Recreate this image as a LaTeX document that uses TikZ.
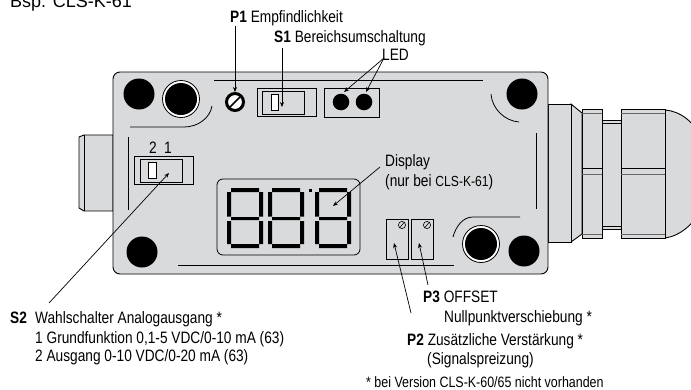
\documentclass[tikz,border=0pt]{standalone}
\usepackage{fontspec}
\setmainfont[FakeStretch=0.83]{Liberation Sans}
\newfontfamily\headfont{Liberation Sans}
\usetikzlibrary{arrows.meta}
\definecolor{housing}{RGB}{217,218,220}
\tikzset{
    lbl/.style={inner sep=0pt,anchor=base west,font=\fontsize{16.5}{18}\selectfont},
    pointer/.style={line width=0.7pt,-{Stealth[length=5pt,width=4pt]}},
    part/.style={line width=0.8pt},
    edge/.style={line width=0.9pt,draw=black,fill=housing},
    blob/.style={fill=black},
  }
% seven segments, origin at the top left corner of the digit
\newcommand{\digitsegs}[1]{%
  \begin{scope}[shift={(#1,188)}]
    \fill (4,0) rectangle (32,4) (4,29) rectangle (32,32) (4,56) rectangle (32,60);
    \foreach \sx in {0,32}{
      \fill (\sx,4) rectangle ++(4,24.5) (\sx,33) rectangle ++(4,23);
    }
  \end{scope}}

\begin{document}
\begin{tikzpicture}[x=1pt,y=-1pt]
				  \useasboundingbox (0,0) rectangle (691,389);
				  %label anchors
				  \coordinate(P1a) at (235,26);
				  \coordinate(P1b) at (235,92);
				  \coordinate(S1a) at (282,48);
				  \coordinate(S1b) at (282,107);
				  \coordinate(LEDa) at (384,58);
				  \coordinate(LEDb) at (344,92);
				  \coordinate(LEDc) at (366,92);
				  \coordinate(S2a) at (49,303);
				  \coordinate(S2b) at (169,173);
				  \coordinate(DISa) at (380,167);
				  \coordinate(DISb) at (333,206);
				  \coordinate(P2a) at (411,313);
				  \coordinate(P2b) at (394,243);
				  \coordinate(P3a) at (428,285);
				  \coordinate(P3b) at (419,243);

				  %gland on the right
				  \begin{scope}
				  \clip (540,90) rectangle (691,260);
				  \draw[edge] (665,110) .. controls (680,111) and (695,122) .. (702,140) .. controls (708,160) and (708,186) .. (702,206) .. controls (695,224) and (680,236) .. (665,238) -- cycle;
				  \end{scope}
				  \draw[edge] (571,104) -- (582,113) -- (582,234) -- (571,242) -- cycle;
				  \draw[edge] (548,104) rectangle (571,242);
				  \draw[edge] (602,120) rectangle (621,229);
				  \draw[part] (602,123) -- (621,123) (602,226) -- (621,226);
				  \foreach \xa/\xb in {582/602,621/665}{
				    \draw[edge] (\xa,109) rectangle (\xb,238);
				    \draw[part,black!60] (\xa,113) -- (\xb,113) (\xa,234) -- (\xb,234) (\xa,174) -- (\xb,174);
				    \draw[edge] (\xa,168) -- (\xb,168);
				  }

				  %plug on the left
				  \draw[edge] (79,137) -- (84,135) -- (113,135) -- (113,211) -- (84,211) -- (79,208) -- cycle;
				  \draw[part] (84,135) -- (84,211);

				  %housing
				  \draw[edge,rounded corners=7pt] (113,72) rectangle (548,274);
				  \draw[part] (214,80) -- (483,80) (536,133) -- (536,209) (128,137) -- (128,210) (178,265) -- (454,265);
				  \draw[part] (130,127) -- (184,127) .. controls (198,127) and (210,118) .. (212,106);
				  \draw[part] (491,94) .. controls (492,109) and (505,121) .. (519,122);
				  \draw[part] (453,237) .. controls (456,226) and (463,217) .. (473,217) -- (520,217);

				  %holes
				  \foreach \cx/\cy in {139/94,522/94,142/252,524/251}{
				    \fill[blob] (\cx,\cy) circle[radius=15.5];
				  }
				  \foreach \cx/\cy in {181/99,481/244}{
				    \draw[part,fill=white] (\cx,\cy) circle[radius=18.5];
				    \fill[blob] (\cx,\cy) circle[radius=16];
				  }

				  %P1 screw
				  \draw[line width=3pt,fill=white] (235,102) circle[radius=8.5];
				  \draw[line width=1.6pt] (230,107) -- (240,97);

				  %switches S1 and S2
				  \draw[part] (257,88) rectangle (316,116);
				  \draw[part] (262,91) rectangle (304,114);
				  \draw[part,fill=white] (271,94) rectangle (278,110);
				  \draw[part] (134,156) rectangle (193,184);
				  \draw[part] (140,159) rectangle (182,182);
				  \draw[part,fill=white] (148,162) rectangle (156,178);

				  %LEDs
				  \draw[part] (324,88) rectangle (379,117);
				  \foreach \cx in {341,364}{
				    \fill[blob] (\cx,102) circle[radius=8.3];
				  }

				  %display
				  \draw[part,rounded corners=6pt] (217,179) rectangle (360,255);
				  \foreach \dx in {227,268,315}{
				    \digitsegs{\dx}
				  }
				  \fill[blob] (308.5,188.5) rectangle ++(3,3);

				  %P2 and P3
				  \foreach \bx/\sx in {386/402,411/427}{
				    \draw[part] (\bx,219) rectangle ++(22,40);
				    \draw[line width=0.6pt] (\sx,225) circle[radius=3.6];
				    \draw[line width=0.6pt] (\sx-2.5,228) -- (\sx+2.5,222);
				  }

				  %texts
				  \node[lbl,font=\headfont\fontsize{18}{20}\selectfont] (head) at (10,7.5) {Bsp. CLS-K-61};
				  \node[lbl] (p1) at (230,22.5) {\textbf{P1} Empfindlichkeit};
				  \node[lbl] (s1) at (274,42.5) {\textbf{S1} Bereichsumschaltung};
				  \node[lbl] (led) at (382,60.5) {LED};
				  \node[lbl] (two) at (149,153) {2};
				  \node[lbl] (one) at (164,153) {1};
				  \node[lbl] (disp) at (385,166) {Display};
				  \node[lbl] (nur) at (385,186) {(nur bei {\fontsize{14.6}{16}\selectfont CLS-K-61})};
				  \node[lbl] (s2) at (10,323.5) {\textbf{S2}};
				  \node[lbl] (s2t) at (35,323.5) {Wahlschalter Analogausgang *};
				  \node[lbl] (s2u) at (35,343) {1 Grundfunktion 0,1-5 VDC/0-10 mA (63)};
				  \node[lbl] (s2v) at (35,361.5) {2 Ausgang 0-10 VDC/0-20 mA (63)};
				  \node[lbl] (p3) at (423,302.5) {\textbf{P3} OFFSET};
				  \node[lbl] (p3t) at (444,322) {Nullpunktverschiebung *};
				  \node[lbl] (p2) at (407,345) {\textbf{P2} Zusätzliche Verstärkung *};
				  \node[lbl] (p2t) at (427,364.5) {(Signalspreizung)};
				  \node[lbl,font=\fontsize{15}{17}\selectfont] (foot) at (366,387.5) {* bei Version CLS-K-60/65 nicht vorhanden};

				  %pointers
				  \draw[pointer] (P1a) -- (P1b);
				  \draw[pointer] (S1a) -- (S1b);
				  \draw[pointer] (LEDa) -- (LEDb);
				  \draw[pointer] (LEDa) -- (LEDc);
				  \draw[pointer] (S2a) -- (S2b);
				  \draw[pointer] (DISa) -- (DISb);
				  \draw[pointer] (P2a) -- (P2b);
				  \draw[pointer] (P3a) -- (P3b);
\end{tikzpicture}
\end{document}
